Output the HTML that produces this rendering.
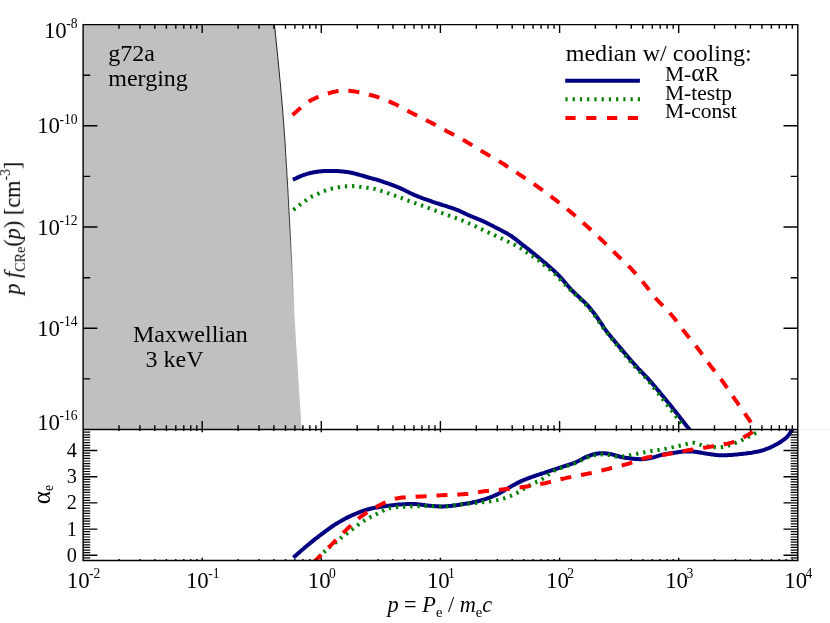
<!DOCTYPE html>
<html><head><meta charset="utf-8"><title>plot</title>
<style>html,body{margin:0;padding:0;background:#fff;}svg{display:block;}text{font-family:"Liberation Serif",serif;fill:#000;}</style></head><body>
<svg width="830" height="623" viewBox="0 0 830 623">
<rect width="830" height="623" fill="#fff"/>
<defs><clipPath id="cu"><rect x="83.1" y="24.6" width="714.7" height="404.9"/></clipPath>
<clipPath id="cl"><rect x="83.1" y="429.5" width="714.7" height="131.0"/></clipPath></defs>
<polygon points="83.1,24.6 274.4,24.3 274.6,26.8 275.0,29.8 275.3,33.4 275.8,37.5 276.2,41.9 276.7,46.5 277.2,51.4 277.7,56.3 278.2,61.2 278.6,66.0 279.1,70.6 279.5,75.0 279.9,79.2 280.3,83.3 280.7,87.4 281.0,91.5 281.4,95.6 281.8,99.7 282.1,103.8 282.5,108.0 282.8,112.2 283.1,116.4 283.5,120.7 283.8,125.0 284.1,129.4 284.4,133.9 284.8,138.5 285.1,143.1 285.4,147.8 285.6,152.5 285.9,157.2 286.2,161.9 286.5,166.5 286.8,171.1 287.0,175.6 287.3,180.0 287.5,184.3 287.8,188.4 288.0,192.3 288.2,196.2 288.4,200.0 288.6,203.9 288.8,207.8 289.0,211.9 289.3,216.0 289.5,220.4 289.7,225.1 290.0,230.0 290.3,235.3 290.6,240.9 290.9,246.8 291.2,252.9 291.5,259.1 291.8,265.5 292.2,271.9 292.5,278.2 292.8,284.6 293.2,290.7 293.5,296.7 293.8,302.5 294.1,308.1 294.4,313.5 294.7,318.8 295.0,324.0 295.3,329.2 295.6,334.3 295.9,339.3 296.2,344.4 296.5,349.5 296.9,354.6 297.2,359.8 297.5,365.0 297.8,370.5 298.2,376.4 298.6,382.5 299.0,388.7 299.4,394.9 299.8,401.1 300.2,407.0 300.5,412.6 300.9,417.7 301.1,422.3 301.4,426.2 301.6,429.3 83.1,429.5" fill="#c0c0c0"/>
<linearGradient id="mg" gradientUnits="userSpaceOnUse" x1="0" y1="24" x2="0" y2="312"><stop offset="0" stop-color="#000" stop-opacity="1"/><stop offset="0.7" stop-color="#000" stop-opacity="0.85"/><stop offset="1" stop-color="#000" stop-opacity="0"/></linearGradient>
<path d="M274.4 24.3 L274.6 26.8 L275.0 29.8 L275.3 33.4 L275.8 37.5 L276.2 41.9 L276.7 46.5 L277.2 51.4 L277.7 56.3 L278.2 61.2 L278.6 66.0 L279.1 70.6 L279.5 75.0 L279.9 79.2 L280.3 83.3 L280.7 87.4 L281.0 91.5 L281.4 95.6 L281.8 99.7 L282.1 103.8 L282.5 108.0 L282.8 112.2 L283.1 116.4 L283.5 120.7 L283.8 125.0 L284.1 129.4 L284.4 133.9 L284.8 138.5 L285.1 143.1 L285.4 147.8 L285.6 152.5 L285.9 157.2 L286.2 161.9 L286.5 166.5 L286.8 171.1 L287.0 175.6 L287.3 180.0 L287.5 184.3 L287.8 188.4 L288.0 192.3 L288.2 196.2 L288.4 200.0 L288.6 203.9 L288.8 207.8 L289.0 211.9 L289.3 216.0 L289.5 220.4 L289.7 225.1 L290.0 230.0 L290.3 235.5 L290.6 241.5 L290.9 248.0 L291.3 254.8 L291.7 261.8 L292.0 268.8 L292.4 275.6 L292.7 282.2 L293.0 288.3 L293.3 293.8 L293.6 298.6 L293.8 302.5 L294.0 305.5 L294.1 307.8 L294.2 309.5 L294.3 310.7 L294.3 311.4 L294.3 311.8 L294.4 311.9 L294.4 311.9 L294.4 311.8 L294.4 311.7 L294.4 311.7 L294.4 312.0" fill="none" stroke="url(#mg)" stroke-width="0.9"/>
<line x1="83.5" y1="16" x2="83.5" y2="23" stroke="#f3f3f3" stroke-width="1"/>
<line x1="798.8" y1="429.5" x2="830" y2="429.5" stroke="#f2f2f2" stroke-width="1"/>
<g clip-path="url(#cu)" fill="none" stroke-width="4">
<path d="M292.8 179.7 L293.3 179.5 L293.9 179.2 L294.7 178.8 L295.5 178.5 L296.4 178.1 L297.4 177.6 L298.3 177.2 L299.3 176.7 L300.3 176.3 L301.3 175.9 L302.2 175.5 L303.1 175.2 L303.9 174.9 L304.8 174.6 L305.6 174.4 L306.4 174.1 L307.2 173.9 L308.0 173.6 L308.8 173.4 L309.6 173.2 L310.4 173.0 L311.2 172.8 L311.9 172.7 L312.7 172.5 L313.4 172.3 L314.2 172.2 L314.9 172.1 L315.5 172.0 L316.2 171.9 L316.9 171.8 L317.6 171.7 L318.2 171.6 L318.9 171.5 L319.6 171.4 L320.4 171.4 L321.1 171.3 L321.9 171.2 L322.6 171.2 L323.4 171.1 L324.2 171.1 L325.1 171.0 L325.9 171.0 L326.7 171.0 L327.5 170.9 L328.4 170.9 L329.2 170.9 L330.0 170.9 L330.8 170.9 L331.6 170.9 L332.4 170.9 L333.2 170.9 L334.0 170.9 L334.8 171.0 L335.6 171.0 L336.4 171.0 L337.2 171.1 L338.0 171.1 L338.8 171.2 L339.6 171.2 L340.4 171.3 L341.2 171.4 L342.0 171.4 L342.8 171.5 L343.6 171.6 L344.4 171.7 L345.2 171.8 L346.1 171.9 L346.9 172.0 L347.7 172.1 L348.5 172.2 L349.3 172.4 L350.1 172.5 L350.9 172.7 L351.7 172.8 L352.5 173.0 L353.3 173.2 L354.1 173.4 L354.9 173.6 L355.7 173.8 L356.5 174.0 L357.3 174.2 L358.1 174.5 L358.9 174.7 L359.7 174.9 L360.5 175.1 L361.3 175.3 L362.1 175.6 L362.9 175.8 L363.6 176.0 L364.4 176.3 L365.2 176.5 L366.0 176.7 L366.8 177.0 L367.6 177.2 L368.5 177.5 L369.3 177.7 L370.1 177.9 L370.9 178.1 L371.7 178.4 L372.5 178.6 L373.3 178.8 L374.1 179.0 L375.0 179.2 L375.8 179.4 L376.8 179.7 L377.8 180.0 L378.8 180.3 L380.0 180.7 L381.2 181.1 L382.6 181.6 L384.0 182.1 L385.5 182.6 L387.0 183.1 L388.6 183.7 L390.2 184.2 L391.8 184.8 L393.4 185.4 L395.0 186.1 L396.6 186.7 L398.1 187.3 L399.6 187.9 L401.1 188.6 L402.6 189.3 L404.1 190.0 L405.6 190.8 L407.1 191.5 L408.6 192.2 L410.1 193.0 L411.6 193.7 L413.1 194.4 L414.6 195.1 L416.1 195.7 L417.6 196.3 L419.1 196.9 L420.6 197.5 L422.0 198.0 L423.5 198.6 L425.0 199.1 L426.5 199.6 L428.0 200.2 L429.5 200.7 L431.0 201.2 L432.6 201.8 L434.2 202.3 L435.8 202.9 L437.5 203.4 L439.3 204.0 L441.0 204.5 L442.8 205.1 L444.6 205.6 L446.4 206.2 L448.2 206.8 L449.9 207.3 L451.6 207.9 L453.2 208.4 L454.7 209.0 L456.2 209.6 L457.6 210.1 L459.0 210.7 L460.3 211.3 L461.6 211.9 L462.9 212.5 L464.1 213.1 L465.3 213.7 L466.5 214.2 L467.7 214.8 L468.9 215.3 L470.0 215.8 L471.1 216.3 L472.2 216.7 L473.2 217.1 L474.2 217.5 L475.2 217.9 L476.2 218.3 L477.2 218.7 L478.1 219.1 L479.1 219.4 L480.0 219.8 L481.0 220.3 L482.0 220.7 L483.0 221.2 L484.0 221.6 L484.9 222.1 L485.9 222.5 L486.9 223.0 L487.8 223.5 L488.8 224.0 L489.8 224.5 L490.8 225.0 L491.9 225.5 L493.0 226.1 L494.1 226.7 L495.3 227.3 L496.6 228.0 L497.9 228.6 L499.2 229.3 L500.6 230.0 L502.0 230.7 L503.3 231.4 L504.7 232.2 L506.1 232.9 L507.4 233.6 L508.6 234.4 L509.8 235.1 L510.9 235.8 L512.0 236.5 L513.0 237.3 L514.0 238.0 L514.9 238.7 L515.9 239.5 L516.8 240.2 L517.8 241.0 L518.7 241.7 L519.7 242.5 L520.7 243.4 L521.8 244.2 L522.9 245.1 L524.1 245.9 L525.2 246.8 L526.4 247.8 L527.6 248.7 L528.8 249.6 L530.1 250.6 L531.3 251.6 L532.5 252.6 L533.8 253.6 L535.0 254.6 L536.3 255.6 L537.6 256.7 L538.9 257.7 L540.3 258.9 L541.6 260.0 L543.0 261.2 L544.4 262.4 L545.8 263.5 L547.1 264.7 L548.4 265.8 L549.6 266.9 L550.8 267.9 L551.9 268.9 L552.9 269.8 L553.9 270.7 L554.7 271.5 L555.5 272.3 L556.3 273.1 L557.1 273.8 L557.8 274.5 L558.5 275.3 L559.3 276.0 L560.0 276.8 L560.8 277.6 L561.6 278.5 L562.4 279.4 L563.2 280.3 L564.0 281.2 L564.7 282.1 L565.5 283.0 L566.3 284.0 L567.1 285.0 L568.0 286.0 L568.9 287.0 L569.8 288.0 L570.8 289.2 L571.9 290.3 L573.1 291.5 L574.4 292.8 L575.8 294.1 L577.2 295.4 L578.7 296.8 L580.2 298.2 L581.7 299.6 L583.2 301.0 L584.7 302.4 L586.1 303.8 L587.4 305.2 L588.7 306.6 L589.9 308.0 L591.1 309.4 L592.2 310.9 L593.3 312.3 L594.4 313.8 L595.5 315.2 L596.5 316.7 L597.5 318.0 L598.4 319.3 L599.2 320.6 L600.0 321.7 L600.8 322.8 L601.4 323.7 L602.0 324.5 L602.4 325.1 L602.7 325.7 L603.0 326.2 L603.2 326.6 L603.5 327.1 L603.8 327.6 L604.2 328.2 L604.7 328.8 L605.3 329.6 L606.0 330.6 L606.9 331.7 L607.9 332.9 L608.9 334.3 L610.1 335.7 L611.3 337.2 L612.6 338.7 L613.9 340.3 L615.2 341.9 L616.6 343.5 L617.9 345.0 L619.2 346.6 L620.5 348.1 L621.8 349.6 L623.0 351.1 L624.3 352.6 L625.7 354.2 L627.0 355.7 L628.3 357.2 L629.6 358.8 L630.9 360.3 L632.3 361.8 L633.6 363.2 L634.8 364.7 L636.1 366.1 L637.3 367.5 L638.5 368.8 L639.7 370.0 L640.9 371.3 L642.1 372.5 L643.2 373.7 L644.4 374.9 L645.6 376.1 L646.8 377.4 L648.0 378.7 L649.3 380.1 L650.6 381.6 L651.9 383.1 L653.3 384.7 L654.7 386.3 L656.1 388.0 L657.5 389.7 L659.0 391.4 L660.4 393.2 L661.9 395.0 L663.4 396.8 L665.0 398.7 L666.5 400.6 L668.1 402.5 L669.8 404.6 L671.6 406.8 L673.4 409.2 L675.4 411.6 L677.3 414.1 L679.3 416.6 L681.2 419.0 L683.0 421.3 L684.7 423.4 L686.2 425.4 L687.5 427.0 L688.6 428.4 L689.4 429.5 L690.1 430.3 L690.5 430.8 L690.8 431.2 L691.0 431.4 L691.1 431.5 L691.1 431.5 L691.0 431.5 L691.0 431.4 L690.9 431.3 L690.9 431.3 L691.0 431.4" stroke="#000080"/>
<path d="M293.4 209.8 L293.7 209.6 L294.0 209.3 L294.4 209.0 L294.9 208.7 L295.4 208.3 L295.9 207.9 L296.5 207.5 L297.0 207.0 L297.6 206.6 L298.2 206.2 L298.7 205.8 L299.2 205.4 L299.7 205.0 L300.2 204.7 L300.7 204.3 L301.2 203.9 L301.7 203.6 L302.2 203.2 L302.7 202.8 L303.2 202.4 L303.7 202.1 L304.2 201.7 L304.7 201.4 L305.2 201.0 L305.7 200.6 L306.2 200.3 L306.7 199.9 L307.2 199.6 L307.7 199.2 L308.2 198.9 L308.7 198.5 L309.2 198.2 L309.7 197.8 L310.3 197.5 L310.8 197.2 L311.3 196.9 L311.8 196.6 L312.4 196.3 L312.9 196.1 L313.4 195.8 L314.0 195.5 L314.5 195.3 L315.1 195.0 L315.6 194.8 L316.2 194.5 L316.7 194.3 L317.3 194.0 L317.8 193.8 L318.4 193.5 L318.9 193.3 L319.5 193.0 L320.0 192.8 L320.6 192.5 L321.1 192.3 L321.7 192.0 L322.2 191.8 L322.8 191.6 L323.4 191.3 L323.9 191.1 L324.5 190.9 L325.1 190.7 L325.6 190.5 L326.2 190.3 L326.8 190.1 L327.4 189.9 L327.9 189.7 L328.5 189.5 L329.1 189.3 L329.7 189.2 L330.2 189.0 L330.8 188.9 L331.4 188.7 L332.0 188.6 L332.6 188.4 L333.1 188.3 L333.7 188.2 L334.3 188.0 L334.9 187.9 L335.4 187.8 L336.0 187.7 L336.6 187.6 L337.2 187.5 L337.8 187.4 L338.4 187.3 L339.0 187.2 L339.6 187.1 L340.2 187.0 L340.9 186.9 L341.5 186.8 L342.1 186.7 L342.7 186.6 L343.3 186.6 L344.0 186.5 L344.6 186.4 L345.2 186.4 L345.8 186.3 L346.4 186.3 L347.0 186.2 L347.6 186.2 L348.2 186.1 L348.7 186.1 L349.3 186.1 L349.9 186.1 L350.5 186.1 L351.0 186.1 L351.6 186.1 L352.2 186.1 L352.8 186.1 L353.4 186.1 L354.0 186.2 L354.6 186.2 L355.2 186.3 L355.8 186.4 L356.4 186.4 L357.1 186.5 L357.7 186.6 L358.3 186.7 L358.9 186.7 L359.5 186.8 L360.1 186.9 L360.7 187.0 L361.3 187.0 L361.9 187.1 L362.5 187.2 L363.1 187.3 L363.7 187.3 L364.3 187.4 L364.9 187.5 L365.5 187.6 L366.1 187.6 L366.7 187.7 L367.3 187.8 L367.9 187.9 L368.5 188.0 L369.1 188.1 L369.7 188.2 L370.3 188.2 L370.9 188.3 L371.5 188.4 L372.0 188.5 L372.6 188.6 L373.2 188.8 L373.8 188.9 L374.4 189.0 L375.0 189.1 L375.5 189.2 L376.0 189.4 L376.5 189.5 L377.0 189.6 L377.5 189.7 L378.0 189.9 L378.6 190.0 L379.2 190.2 L379.8 190.4 L380.6 190.6 L381.4 190.9 L382.3 191.2 L383.3 191.5 L384.4 191.9 L385.5 192.3 L386.6 192.7 L387.8 193.1 L389.1 193.5 L390.3 194.0 L391.5 194.4 L392.7 194.8 L393.9 195.3 L395.1 195.7 L396.2 196.1 L397.4 196.5 L398.5 197.0 L399.6 197.4 L400.8 197.8 L401.9 198.2 L403.0 198.7 L404.2 199.1 L405.3 199.5 L406.4 200.0 L407.6 200.4 L408.7 200.8 L409.8 201.2 L411.0 201.6 L412.1 202.0 L413.2 202.4 L414.3 202.8 L415.4 203.2 L416.6 203.7 L417.7 204.1 L418.8 204.5 L419.9 204.9 L421.1 205.3 L422.2 205.7 L423.3 206.1 L424.5 206.5 L425.6 207.0 L426.8 207.4 L427.9 207.8 L429.1 208.2 L430.2 208.7 L431.4 209.1 L432.6 209.5 L433.7 210.0 L434.9 210.4 L436.0 210.8 L437.1 211.2 L438.3 211.6 L439.4 212.1 L440.5 212.5 L441.7 212.9 L442.8 213.3 L443.9 213.7 L445.1 214.1 L446.2 214.5 L447.3 215.0 L448.5 215.4 L449.6 215.8 L450.7 216.2 L451.9 216.6 L453.0 217.1 L454.2 217.5 L455.4 217.9 L456.5 218.4 L457.7 218.8 L458.8 219.2 L460.0 219.7 L461.1 220.1 L462.3 220.5 L463.4 221.0 L464.5 221.5 L465.7 222.0 L466.9 222.5 L468.1 223.0 L469.3 223.5 L470.5 224.0 L471.7 224.5 L472.8 225.0 L473.9 225.5 L474.9 226.0 L475.8 226.4 L476.7 226.8 L477.5 227.2 L478.1 227.5 L478.7 227.7 L479.2 228.0 L479.6 228.2 L480.0 228.4 L480.4 228.7 L480.9 228.9 L481.3 229.1 L481.9 229.4 L482.5 229.7 L483.3 230.1 L484.2 230.5 L485.1 230.9 L486.1 231.4 L487.2 231.9 L488.3 232.4 L489.5 232.9 L490.7 233.4 L491.9 234.0 L493.1 234.5 L494.2 235.1 L495.4 235.6 L496.5 236.1 L497.6 236.6 L498.8 237.2 L499.9 237.7 L501.1 238.3 L502.3 238.8 L503.4 239.4 L504.5 239.9 L505.6 240.4 L506.7 240.9 L507.7 241.4 L508.6 241.9 L509.5 242.3 L510.3 242.7 L511.0 243.0 L511.6 243.3 L512.2 243.6 L512.7 243.9 L513.2 244.2 L513.7 244.4 L514.2 244.7 L514.6 244.9 L515.1 245.2 L515.6 245.4 L516.1 245.7 L516.6 246.0 L517.2 246.3 L517.7 246.6 L518.2 246.9 L518.8 247.2 L519.3 247.4 L519.8 247.7 L520.3 248.0 L520.9 248.3 L521.4 248.7 L521.9 249.0 L522.4 249.3 L522.9 249.6 L523.4 250.0 L523.9 250.3 L524.4 250.7 L524.9 251.1 L525.4 251.4 L525.9 251.8 L526.4 252.2 L526.9 252.5 L527.4 252.9 L527.9 253.2 L528.4 253.6 L528.9 253.9 L529.4 254.3 L529.9 254.6 L530.4 255.0 L531.0 255.3 L531.5 255.7 L532.0 256.0 L532.5 256.4 L533.0 256.7 L533.5 257.0 L534.0 257.4 L534.5 257.7 L535.0 258.0 L535.5 258.4 L536.0 258.7 L536.4 259.0 L536.9 259.3 L537.4 259.6 L537.9 259.9 L538.3 260.2 L538.8 260.6 L539.3 260.9 L539.7 261.2 L540.2 261.6 L540.7 262.0 L541.1 262.4 L541.6 262.7 L542.0 263.1 L542.5 263.5 L542.9 264.0 L543.4 264.4 L543.8 264.8 L544.3 265.2 L544.8 265.6 L545.2 266.0 L545.7 266.4 L546.2 266.8 L546.7 267.2 L547.2 267.6 L547.7 267.9 L548.2 268.3 L548.7 268.7 L549.2 269.1 L549.7 269.4 L550.2 269.8 L550.7 270.2 L551.2 270.6 L551.7 271.0 L552.1 271.4 L552.5 271.7 L552.9 272.0 L553.2 272.3 L553.5 272.6 L553.9 273.0 L554.2 273.3 L554.6 273.7 L555.1 274.2 L555.6 274.7 L556.3 275.4 L557.0 276.1 L557.8 277.0 L558.8 277.9 L559.8 279.0 L560.9 280.1 L562.0 281.3 L563.2 282.5 L564.5 283.8 L565.7 285.1 L567.0 286.4 L568.3 287.7 L569.6 289.0 L570.9 290.3 L572.2 291.6 L573.6 292.9 L575.0 294.2 L576.5 295.6 L577.9 296.9 L579.4 298.3 L580.9 299.7 L582.3 301.1 L583.8 302.5 L585.1 303.9 L586.5 305.2 L587.7 306.6 L588.9 308.0 L590.1 309.4 L591.2 310.9 L592.3 312.3 L593.4 313.8 L594.5 315.2 L595.5 316.7 L596.4 318.0 L597.3 319.3 L598.2 320.6 L599.0 321.7 L599.8 322.8 L600.5 323.7 L601.0 324.5 L601.4 325.1 L601.8 325.7 L602.1 326.2 L602.4 326.6 L602.7 327.1 L603.1 327.6 L603.5 328.2 L604.0 328.8 L604.6 329.6 L605.3 330.6 L606.2 331.7 L607.1 332.9 L608.2 334.3 L609.3 335.7 L610.5 337.2 L611.7 338.7 L613.0 340.3 L614.2 341.9 L615.5 343.5 L616.8 345.0 L618.1 346.6 L619.3 348.1 L620.5 349.6 L621.8 351.1 L623.0 352.6 L624.3 354.2 L625.5 355.7 L626.8 357.3 L628.1 358.8 L629.3 360.3 L630.6 361.8 L631.8 363.3 L633.1 364.7 L634.3 366.1 L635.5 367.4 L636.7 368.7 L637.8 369.8 L638.9 371.0 L640.0 372.1 L641.2 373.2 L642.3 374.3 L643.4 375.5 L644.6 376.7 L645.8 378.0 L647.0 379.3 L648.3 380.8 L649.6 382.4 L651.0 384.0 L652.3 385.7 L653.7 387.5 L655.2 389.3 L656.6 391.1 L658.1 393.0 L659.5 394.9 L661.0 396.8 L662.5 398.7 L663.9 400.6 L665.4 402.5 L666.9 404.5 L668.5 406.5 L670.2 408.7 L671.9 411.0 L673.6 413.2 L675.3 415.5 L676.9 417.6 L678.5 419.6 L679.9 421.5 L681.2 423.2 L682.2 424.6 L683.1 425.7" stroke="#008000" stroke-dasharray="2.3 4.9"/>
<path d="M292.5 114.9 L293.4 114.2 L294.4 113.3 L295.7 112.2 L297.1 110.9 L298.6 109.6 L300.2 108.2 L301.9 106.8 L303.6 105.4 L305.4 104.0 L307.2 102.7 L308.9 101.5 L310.6 100.5 L312.3 99.6 L314.1 98.7 L315.9 97.9 L317.7 97.1 L319.6 96.3 L321.5 95.6 L323.4 94.9 L325.3 94.3 L327.1 93.7 L328.9 93.2 L330.6 92.7 L332.3 92.3 L333.9 91.9 L335.3 91.6 L336.7 91.3 L338.0 91.1 L339.3 90.9 L340.6 90.7 L341.9 90.6 L343.2 90.6 L344.6 90.6 L346.0 90.6 L347.6 90.7 L349.2 90.8 L351.0 91.0 L352.8 91.2 L354.8 91.5 L356.9 91.9 L358.9 92.3 L361.1 92.7 L363.2 93.1 L365.3 93.6 L367.4 94.1 L369.4 94.7 L371.4 95.2 L373.3 95.7 L375.1 96.2 L376.9 96.8 L378.6 97.4 L380.3 98.0 L382.0 98.6 L383.6 99.2 L385.3 99.8 L386.9 100.5 L388.5 101.2 L390.1 101.9 L391.7 102.6 L393.3 103.3 L394.9 104.0 L396.5 104.8 L398.1 105.6 L399.6 106.4 L401.2 107.2 L402.7 108.0 L404.2 108.9 L405.8 109.7 L407.3 110.6 L408.8 111.4 L410.4 112.2 L411.9 113.0 L413.4 113.8 L415.0 114.6 L416.5 115.3 L418.1 116.1 L419.6 116.9 L421.2 117.6 L422.7 118.4 L424.3 119.2 L425.8 119.9 L427.3 120.7 L428.9 121.5 L430.4 122.3 L431.9 123.1 L433.5 123.9 L435.0 124.7 L436.5 125.6 L438.1 126.4 L439.6 127.2 L441.1 128.1 L442.6 128.9 L444.2 129.7 L445.7 130.5 L447.2 131.4 L448.7 132.2 L450.2 133.0 L451.7 133.8 L453.2 134.6 L454.7 135.4 L456.2 136.2 L457.7 137.0 L459.2 137.8 L460.7 138.7 L462.2 139.5 L463.7 140.3 L465.2 141.1 L466.7 142.0 L468.2 142.9 L469.7 143.8 L471.2 144.7 L472.7 145.6 L474.2 146.5 L475.7 147.4 L477.2 148.3 L478.7 149.3 L480.2 150.2 L481.7 151.1 L483.2 152.0 L484.7 152.9 L486.2 153.8 L487.7 154.7 L489.2 155.5 L490.7 156.4 L492.1 157.3 L493.6 158.1 L495.1 159.0 L496.6 159.8 L498.1 160.7 L499.6 161.6 L501.0 162.5 L502.5 163.4 L504.0 164.3 L505.4 165.2 L506.9 166.2 L508.4 167.1 L509.8 168.1 L511.3 169.0 L512.7 170.0 L514.2 171.0 L515.7 171.9 L517.1 172.9 L518.6 173.8 L520.0 174.8 L521.4 175.8 L522.9 176.7 L524.3 177.7 L525.8 178.6 L527.2 179.6 L528.6 180.5 L530.1 181.5 L531.5 182.5 L532.9 183.4 L534.4 184.4 L535.8 185.4 L537.2 186.4 L538.6 187.4 L540.0 188.4 L541.5 189.4 L542.9 190.5 L544.3 191.5 L545.7 192.5 L547.1 193.6 L548.5 194.6 L549.9 195.7 L551.3 196.7 L552.7 197.8 L554.1 198.8 L555.5 199.8 L556.8 200.9 L558.2 202.0 L559.5 203.0 L560.9 204.1 L562.2 205.1 L563.6 206.2 L564.9 207.3 L566.2 208.3 L567.5 209.4 L568.9 210.5 L570.2 211.6 L571.5 212.7 L572.8 213.8 L574.2 214.9 L575.5 216.1 L576.8 217.2 L578.1 218.4 L579.4 219.5 L580.7 220.7 L582.0 221.8 L583.3 223.0 L584.6 224.1 L585.9 225.3 L587.2 226.5 L588.5 227.6 L589.8 228.8 L591.0 230.0 L592.3 231.2 L593.6 232.4 L594.9 233.5 L596.2 234.7 L597.4 235.9 L598.7 237.1 L599.9 238.3 L601.2 239.5 L602.5 240.7 L603.7 241.9 L605.0 243.1 L606.2 244.4 L607.4 245.6 L608.7 246.8 L609.9 248.0 L611.2 249.2 L612.4 250.4 L613.6 251.6 L614.8 252.8 L616.0 254.0 L617.2 255.1 L618.4 256.3 L619.5 257.4 L620.7 258.4 L621.8 259.5 L623.0 260.6 L624.1 261.7 L625.3 262.8 L626.4 263.9 L627.6 265.0 L628.7 266.2 L629.9 267.4 L631.1 268.7 L632.3 270.0 L633.5 271.3 L634.8 272.7 L636.0 274.1 L637.2 275.5 L638.5 276.9 L639.7 278.3 L640.9 279.7 L642.0 281.1 L643.1 282.4 L644.2 283.7 L645.2 284.9 L646.1 286.1 L647.0 287.2 L647.8 288.3 L648.6 289.4 L649.4 290.5 L650.2 291.5 L651.0 292.6 L651.9 293.8 L652.9 295.0 L653.9 296.2 L655.0 297.5 L656.2 298.9 L657.6 300.3 L659.0 301.9 L660.5 303.4 L662.1 305.0 L663.6 306.6 L665.2 308.2 L666.7 309.9 L668.3 311.4 L669.7 313.0 L671.1 314.5 L672.4 316.0 L673.6 317.4 L674.7 318.8 L675.8 320.2 L676.8 321.5 L677.8 322.8 L678.7 324.1 L679.7 325.4 L680.6 326.7 L681.5 328.0 L682.5 329.3 L683.5 330.6 L684.5 331.9 L685.6 333.2 L686.6 334.6 L687.7 335.9 L688.8 337.2 L689.9 338.6 L691.0 339.9 L692.1 341.2 L693.2 342.6 L694.3 343.9 L695.4 345.3 L696.4 346.6 L697.5 348.0 L698.5 349.4 L699.6 350.8 L700.6 352.2 L701.6 353.6 L702.7 355.0 L703.7 356.4 L704.7 357.8 L705.7 359.2 L706.7 360.6 L707.7 362.0 L708.8 363.4 L709.8 364.8 L710.8 366.2 L711.9 367.5 L712.9 368.9 L714.0 370.2 L715.1 371.6 L716.1 372.9 L717.2 374.3 L718.2 375.6 L719.3 377.0 L720.3 378.3 L721.4 379.7 L722.4 381.1 L723.4 382.5 L724.4 383.9 L725.4 385.3 L726.4 386.8 L727.4 388.2 L728.4 389.6 L729.4 391.1 L730.3 392.5 L731.3 394.0 L732.3 395.4 L733.3 396.9 L734.3 398.3 L735.3 399.8 L736.3 401.2 L737.4 402.7 L738.4 404.3 L739.5 405.8 L740.5 407.3 L741.6 408.8 L742.6 410.2 L743.6 411.7 L744.6 413.1 L745.5 414.5 L746.4 415.8 L747.3 417.1 L748.2 418.4 L749.1 419.7 L749.9 421.0 L750.8 422.3 L751.6 423.6 L752.4 424.7 L753.1 425.9 L753.8 426.9 L754.5 427.8 L755.0 428.7 L755.5 429.4 L755.9 430.0 L756.2 430.5 L756.4 430.8 L756.6 431.1 L756.7 431.2 L756.8 431.3 L756.9 431.4 L756.9 431.5 L756.9 431.5 L756.9 431.5 L757.0 431.5 L757.0 431.6" stroke="#ff0000" stroke-dasharray="11 9.9"/>
</g>
<g clip-path="url(#cl)" fill="none" stroke-width="4">
<path d="M293.3 557.5 L294.4 556.6 L295.8 555.4 L297.4 554.0 L299.2 552.4 L301.1 550.7 L303.2 549.0 L305.4 547.1 L307.6 545.2 L309.8 543.4 L312.0 541.6 L314.1 539.9 L316.1 538.3 L318.1 536.8 L320.0 535.3 L322.0 533.8 L324.0 532.3 L326.0 530.8 L328.1 529.3 L330.1 527.9 L332.1 526.5 L334.1 525.1 L336.2 523.8 L338.2 522.6 L340.2 521.4 L342.2 520.3 L344.2 519.2 L346.2 518.1 L348.2 517.1 L350.2 516.1 L352.2 515.2 L354.3 514.3 L356.3 513.5 L358.3 512.7 L360.3 511.9 L362.3 511.2 L364.3 510.5 L366.3 509.9 L368.3 509.3 L370.3 508.8 L372.3 508.3 L374.3 507.9 L376.4 507.5 L378.4 507.2 L380.4 506.8 L382.4 506.5 L384.4 506.2 L386.4 506.0 L388.4 505.7 L390.4 505.4 L392.5 505.2 L394.6 505.0 L396.7 504.8 L398.8 504.6 L400.9 504.4 L403.0 504.3 L405.0 504.2 L407.0 504.1 L408.9 504.1 L410.7 504.0 L412.5 504.0 L414.2 504.0 L415.8 504.1 L417.3 504.2 L418.8 504.4 L420.2 504.5 L421.6 504.7 L422.9 504.9 L424.2 505.1 L425.5 505.3 L426.8 505.4 L428.1 505.6 L429.4 505.7 L430.7 505.8 L431.9 505.9 L433.1 506.0 L434.3 506.1 L435.5 506.2 L436.7 506.3 L437.8 506.3 L439.0 506.4 L440.2 506.4 L441.4 506.4 L442.6 506.4 L443.9 506.4 L445.2 506.3 L446.5 506.3 L447.9 506.1 L449.3 506.0 L450.6 505.9 L452.0 505.7 L453.5 505.5 L454.9 505.4 L456.3 505.2 L457.8 504.9 L459.2 504.7 L460.7 504.5 L462.2 504.3 L463.7 504.0 L465.3 503.8 L466.8 503.5 L468.4 503.2 L470.0 503.0 L471.6 502.7 L473.2 502.3 L474.7 502.0 L476.3 501.7 L477.8 501.3 L479.3 500.9 L480.8 500.5 L482.3 500.0 L483.7 499.6 L485.2 499.1 L486.7 498.6 L488.1 498.1 L489.5 497.6 L490.9 497.0 L492.3 496.5 L493.6 496.0 L494.9 495.4 L496.1 494.9 L497.3 494.4 L498.4 493.8 L499.5 493.2 L500.5 492.7 L501.5 492.1 L502.5 491.5 L503.4 491.0 L504.3 490.4 L505.3 489.8 L506.2 489.2 L507.2 488.7 L508.2 488.1 L509.2 487.5 L510.2 487.0 L511.2 486.4 L512.2 485.8 L513.2 485.3 L514.2 484.7 L515.2 484.2 L516.2 483.6 L517.2 483.1 L518.2 482.6 L519.2 482.1 L520.2 481.6 L521.2 481.1 L522.2 480.7 L523.2 480.3 L524.1 479.9 L525.1 479.5 L526.1 479.1 L527.1 478.7 L528.1 478.3 L529.1 478.0 L530.1 477.6 L531.2 477.2 L532.3 476.8 L533.4 476.4 L534.6 476.0 L535.7 475.6 L536.9 475.2 L538.1 474.8 L539.3 474.4 L540.6 474.0 L541.8 473.6 L543.0 473.2 L544.3 472.8 L545.5 472.4 L546.7 472.0 L547.9 471.6 L549.1 471.2 L550.3 470.8 L551.5 470.4 L552.7 470.0 L553.9 469.6 L555.2 469.2 L556.4 468.8 L557.6 468.4 L558.8 468.0 L560.0 467.6 L561.2 467.2 L562.4 466.8 L563.6 466.4 L564.9 466.0 L566.1 465.6 L567.4 465.2 L568.6 464.8 L569.8 464.4 L571.1 464.0 L572.3 463.6 L573.4 463.2 L574.6 462.7 L575.7 462.3 L576.8 461.8 L577.9 461.3 L578.9 460.8 L579.9 460.3 L580.9 459.7 L581.9 459.2 L582.9 458.6 L583.9 458.1 L584.8 457.6 L585.8 457.1 L586.7 456.7 L587.7 456.3 L588.6 455.9 L589.6 455.6 L590.5 455.3 L591.4 455.0 L592.3 454.7 L593.2 454.4 L594.1 454.2 L595.0 454.0 L595.9 453.8 L596.8 453.7 L597.7 453.5 L598.6 453.4 L599.5 453.3 L600.4 453.3 L601.2 453.2 L602.1 453.2 L602.9 453.2 L603.8 453.2 L604.6 453.3 L605.5 453.4 L606.4 453.5 L607.4 453.6 L608.4 453.7 L609.4 453.9 L610.5 454.1 L611.6 454.3 L612.7 454.6 L613.9 454.9 L615.1 455.3 L616.3 455.6 L617.5 456.0 L618.8 456.3 L620.0 456.7 L621.3 457.0 L622.6 457.3 L623.9 457.5 L625.2 457.7 L626.6 457.9 L628.0 458.1 L629.5 458.3 L631.0 458.5 L632.5 458.7 L633.9 458.8 L635.4 459.0 L636.8 459.1 L638.1 459.1 L639.5 459.2 L640.7 459.2 L641.9 459.2 L643.0 459.1 L644.1 459.0 L645.2 458.9 L646.2 458.8 L647.2 458.6 L648.1 458.5 L649.1 458.3 L650.0 458.1 L650.9 457.9 L651.9 457.7 L652.8 457.5 L653.7 457.3 L654.5 457.1 L655.3 456.9 L656.0 456.6 L656.7 456.4 L657.5 456.1 L658.2 455.9 L659.0 455.6 L659.9 455.4 L660.8 455.1 L661.8 454.8 L663.0 454.6 L664.3 454.3 L665.8 454.1 L667.4 453.8 L669.0 453.5 L670.8 453.2 L672.5 453.0 L674.3 452.7 L676.1 452.5 L677.8 452.2 L679.4 452.0 L680.9 451.8 L682.3 451.7 L683.6 451.6 L684.7 451.5 L685.8 451.5 L686.8 451.4 L687.8 451.4 L688.8 451.4 L689.7 451.4 L690.6 451.5 L691.5 451.5 L692.4 451.6 L693.3 451.6 L694.3 451.7 L695.3 451.8 L696.3 451.9 L697.3 452.0 L698.2 452.2 L699.2 452.4 L700.2 452.5 L701.2 452.7 L702.2 452.9 L703.2 453.1 L704.2 453.3 L705.3 453.4 L706.4 453.6 L707.5 453.8 L708.6 453.9 L709.7 454.1 L710.8 454.3 L712.0 454.5 L713.1 454.6 L714.3 454.8 L715.6 455.0 L716.8 455.1 L718.1 455.2 L719.4 455.3 L720.8 455.3 L722.2 455.3 L723.7 455.3 L725.3 455.2 L726.9 455.2 L728.5 455.1 L730.1 455.0 L731.8 454.9 L733.5 454.7 L735.2 454.6 L736.8 454.4 L738.5 454.3 L740.1 454.1 L741.7 453.9 L743.4 453.7 L745.0 453.6 L746.7 453.4 L748.4 453.1 L750.1 452.9 L751.7 452.7 L753.3 452.4 L754.9 452.1 L756.5 451.9 L758.0 451.5 L759.4 451.2 L760.8 450.8 L762.1 450.5 L763.4 450.1 L764.7 449.6 L765.9 449.2 L767.1 448.7 L768.3 448.3 L769.4 447.8 L770.6 447.3 L771.7 446.8 L772.8 446.2 L773.9 445.7 L775.0 445.1 L776.1 444.5 L777.2 443.9 L778.3 443.3 L779.4 442.7 L780.4 442.0 L781.5 441.3 L782.4 440.7 L783.4 440.0 L784.3 439.3 L785.1 438.7 L785.9 438.0 L786.6 437.3 L787.3 436.6 L787.9 435.9 L788.5 435.2 L789.1 434.4 L789.6 433.7 L790.1 433.0 L790.5 432.3 L790.9 431.7 L791.3 431.0 L791.6 430.5 L791.9 430.0 L792.2 429.6 L792.4 429.2 L792.5 428.8 L792.7 428.5 L792.8 428.2 L792.8 428.0 L792.9 427.8 L792.9 427.6 L792.9 427.4 L792.9 427.3 L793.0 427.1 L793.0 427.0" stroke="#000080"/>
<path d="M313.5 562.5 L314.1 561.9 L314.9 561.1 L315.9 560.1 L317.0 559.0 L318.1 557.8 L319.3 556.6 L320.6 555.4 L321.9 554.1 L323.1 552.9 L324.4 551.7 L325.5 550.6 L326.6 549.6 L327.6 548.7 L328.7 547.8 L329.7 547.0 L330.7 546.2 L331.8 545.4 L332.8 544.6 L333.8 543.9 L334.7 543.2 L335.6 542.5 L336.5 541.8 L337.3 541.2 L338.0 540.6 L338.7 540.0 L339.2 539.5 L339.8 539.1 L340.2 538.6 L340.6 538.2 L341.0 537.8 L341.4 537.5 L341.8 537.1 L342.1 536.8 L342.5 536.4 L342.9 536.1 L343.4 535.7 L343.9 535.3 L344.4 535.0 L344.9 534.6 L345.4 534.3 L345.9 534.0 L346.4 533.6 L347.0 533.3 L347.5 533.0 L348.0 532.6 L348.5 532.3 L349.0 532.0 L349.5 531.6 L350.0 531.2 L350.5 530.9 L351.0 530.5 L351.4 530.1 L351.9 529.7 L352.4 529.3 L352.8 528.9 L353.3 528.5 L353.8 528.1 L354.3 527.7 L354.7 527.4 L355.2 527.0 L355.7 526.6 L356.1 526.3 L356.6 525.9 L357.1 525.6 L357.5 525.2 L358.0 524.9 L358.5 524.5 L358.9 524.2 L359.4 523.8 L359.9 523.5 L360.4 523.1 L360.9 522.8 L361.4 522.5 L361.9 522.1 L362.5 521.8 L363.0 521.4 L363.5 521.1 L364.1 520.7 L364.6 520.4 L365.1 520.1 L365.7 519.7 L366.2 519.4 L366.8 519.1 L367.3 518.8 L367.8 518.5 L368.4 518.2 L368.9 517.9 L369.4 517.6 L369.9 517.4 L370.4 517.1 L371.0 516.8 L371.5 516.6 L372.0 516.3 L372.5 516.0 L373.1 515.8 L373.6 515.5 L374.1 515.2 L374.7 515.0 L375.2 514.7 L375.8 514.5 L376.3 514.2 L376.9 514.0 L377.4 513.7 L378.0 513.4 L378.6 513.2 L379.1 512.9 L379.7 512.7 L380.2 512.4 L380.7 512.1 L381.3 511.8 L381.8 511.5 L382.3 511.2 L382.8 510.9 L383.4 510.6 L383.9 510.3 L384.4 510.0 L384.9 509.7 L385.5 509.5 L386.0 509.2 L386.6 509.0 L387.2 508.8 L387.8 508.6 L388.4 508.4 L389.0 508.3 L389.6 508.2 L390.2 508.0 L390.8 507.9 L391.4 507.8 L392.1 507.7 L392.7 507.6 L393.3 507.5 L393.9 507.4 L394.5 507.3 L395.1 507.3 L395.7 507.2 L396.3 507.1 L396.9 507.1 L397.5 507.1 L398.1 507.0 L398.7 507.0 L399.3 507.0 L399.9 507.0 L400.5 506.9 L401.1 506.9 L401.7 506.9 L402.2 506.8 L402.7 506.8 L403.2 506.8 L403.7 506.8 L404.2 506.7 L404.8 506.7 L405.4 506.7 L406.0 506.7 L406.7 506.7 L407.4 506.6 L408.3 506.6 L409.3 506.6 L410.4 506.5 L411.6 506.5 L412.9 506.5 L414.2 506.4 L415.6 506.4 L416.9 506.4 L418.2 506.3 L419.5 506.3 L420.7 506.3 L421.8 506.2 L422.8 506.2 L423.6 506.2 L424.3 506.1 L425.0 506.1 L425.5 506.1 L426.0 506.1 L426.4 506.0 L426.9 506.0 L427.4 506.0 L427.9 506.0 L428.5 506.0 L429.2 506.0 L430.0 506.0 L430.9 506.0 L431.9 506.1 L433.0 506.2 L434.1 506.2 L435.2 506.3 L436.4 506.4 L437.6 506.5 L438.9 506.6 L440.1 506.6 L441.4 506.6 L442.6 506.6 L443.9 506.6 L445.1 506.5 L446.4 506.4 L447.6 506.3 L448.8 506.1 L450.0 505.9 L451.3 505.7 L452.6 505.5 L454.0 505.3 L455.4 505.1 L456.8 504.9 L458.4 504.7 L460.0 504.5 L461.8 504.3 L463.6 504.1 L465.6 503.9 L467.7 503.7 L469.8 503.5 L472.0 503.4 L474.2 503.2 L476.3 502.9 L478.4 502.7 L480.4 502.5 L482.3 502.3 L484.1 502.1 L485.8 501.9 L487.4 501.7 L488.9 501.5 L490.4 501.3 L491.8 501.1 L493.2 500.8 L494.5 500.6 L495.8 500.4 L497.1 500.1 L498.4 499.8 L499.7 499.5 L501.0 499.2 L502.3 498.8 L503.5 498.5 L504.8 498.1 L506.0 497.7 L507.2 497.2 L508.4 496.8 L509.5 496.3 L510.7 495.9 L511.9 495.3 L513.0 494.8 L514.2 494.3 L515.4 493.7 L516.6 493.1 L517.8 492.4 L519.1 491.7 L520.3 491.0 L521.6 490.2 L522.8 489.5 L524.0 488.7 L525.2 488.0 L526.4 487.2 L527.6 486.5 L528.8 485.8 L529.9 485.2 L531.0 484.6 L532.0 484.1 L533.1 483.6 L534.1 483.1 L535.1 482.6 L536.0 482.2 L537.0 481.7 L538.0 481.3 L539.0 480.8 L539.9 480.3 L540.9 479.8 L541.9 479.2 L542.9 478.6 L544.0 477.9 L545.0 477.1 L546.1 476.4 L547.2 475.6 L548.2 474.8 L549.3 474.0 L550.3 473.3 L551.3 472.6 L552.3 471.9 L553.2 471.3 L554.0 470.8 L554.7 470.4 L555.4 470.0 L556.0 469.7 L556.5 469.5 L557.0 469.3 L557.5 469.1 L557.9 468.9 L558.4 468.7 L559.0 468.6 L559.6 468.3 L560.4 468.1 L561.2 467.8 L562.2 467.5 L563.2 467.1 L564.4 466.7 L565.6 466.4 L566.9 466.0 L568.2 465.6 L569.5 465.2 L570.8 464.7 L572.1 464.3 L573.3 463.9 L574.6 463.4 L575.7 463.0 L576.8 462.5 L577.9 462.1 L578.9 461.6 L579.9 461.1 L580.9 460.5 L581.9 460.0 L582.9 459.5 L583.9 459.0 L584.8 458.5 L585.8 458.1 L586.7 457.7 L587.7 457.3 L588.6 457.0 L589.6 456.6 L590.5 456.3 L591.4 456.0 L592.3 455.8 L593.2 455.5 L594.1 455.3 L595.0 455.1 L595.9 454.9 L596.8 454.7 L597.7 454.6 L598.6 454.5 L599.5 454.4 L600.4 454.4 L601.3 454.4 L602.3 454.4 L603.2 454.5 L604.1 454.5 L605.0 454.6 L605.9 454.7 L606.8 454.8 L607.7 454.9 L608.5 455.0 L609.4 455.1 L610.2 455.2 L611.0 455.4 L611.8 455.5 L612.5 455.7 L613.2 455.9 L614.0 456.1 L614.7 456.3 L615.5 456.5 L616.3 456.6 L617.1 456.7 L618.0 456.8 L619.0 456.8 L620.0 456.7 L621.1 456.6 L622.3 456.5 L623.5 456.3 L624.7 456.1 L625.9 455.9 L627.2 455.6 L628.5 455.4 L629.8 455.1 L631.0 454.9 L632.3 454.6 L633.5 454.4 L634.7 454.2 L635.9 453.9 L637.2 453.7 L638.4 453.4 L639.7 453.2 L640.9 452.9 L642.1 452.6 L643.4 452.4 L644.6 452.2 L645.7 451.9 L646.9 451.7 L648.0 451.5 L649.1 451.3 L650.1 451.2 L651.0 451.0 L651.9 450.9 L652.8 450.8 L653.7 450.7 L654.6 450.6 L655.5 450.5 L656.5 450.4 L657.6 450.2 L658.7 450.0 L660.0 449.8 L661.4 449.5 L662.9 449.2 L664.6 448.9 L666.3 448.6 L668.1 448.2 L669.9 447.8 L671.7 447.4 L673.5 447.1 L675.2 446.7 L676.9 446.3 L678.5 446.0 L679.9 445.7 L681.2 445.4 L682.5 445.1 L683.7 444.8 L684.9 444.4 L686.0 444.1 L687.1 443.8 L688.1 443.5 L689.1 443.3 L690.1 443.1 L691.1 442.9 L692.1 442.8 L693.1 442.8 L694.1 442.8 L695.0 443.0 L695.8 443.1 L696.7 443.4 L697.5 443.7 L698.3 444.0 L699.2 444.3 L700.0 444.6 L700.9 444.9 L701.9 445.2 L702.9 445.5 L704.0 445.7 L705.2 445.9 L706.5 446.1 L707.8 446.4 L709.2 446.6 L710.6 446.8 L712.0 447.0 L713.5 447.2 L715.0 447.3 L716.5 447.4 L717.9 447.4 L719.4 447.4 L720.8 447.3 L722.2 447.1 L723.6 446.9 L725.0 446.6 L726.4 446.2 L727.7 445.8 L729.1 445.3 L730.5 444.8 L731.9 444.3 L733.3 443.8 L734.8 443.2 L736.2 442.6 L737.7 442.0 L739.3 441.3 L740.9 440.6 L742.7 439.7 L744.5 438.8 L746.4 437.9 L748.2 437.0 L749.9 436.1 L751.6 435.2 L753.1 434.4 L754.4 433.7 L755.6 433.1 L756.5 432.6" stroke="#008000" stroke-dasharray="2.3 4.9"/>
<path d="M313.5 562.5 L314.2 561.8 L315.0 561.0 L316.0 560.0 L317.1 558.9 L318.3 557.7 L319.6 556.4 L321.0 555.1 L322.4 553.7 L323.9 552.2 L325.3 550.8 L326.8 549.3 L328.2 547.9 L329.7 546.4 L331.2 544.9 L332.8 543.3 L334.4 541.6 L336.0 539.9 L337.7 538.2 L339.4 536.5 L341.1 534.8 L342.7 533.2 L344.4 531.6 L346.0 530.1 L347.5 528.6 L349.0 527.2 L350.4 525.9 L351.8 524.6 L353.1 523.4 L354.4 522.1 L355.8 521.0 L357.1 519.8 L358.4 518.6 L359.8 517.5 L361.2 516.4 L362.7 515.3 L364.3 514.2 L366.0 513.1 L367.7 512.0 L369.5 510.8 L371.4 509.7 L373.4 508.6 L375.3 507.5 L377.2 506.5 L379.1 505.5 L381.0 504.5 L382.7 503.6 L384.4 502.8 L386.0 502.1 L387.4 501.5 L388.7 500.9 L389.9 500.4 L391.0 500.0 L392.1 499.6 L393.1 499.3 L394.1 499.0 L395.2 498.7 L396.4 498.5 L397.6 498.3 L399.0 498.0 L400.5 497.8 L402.2 497.6 L404.0 497.4 L405.9 497.2 L407.8 497.1 L409.9 497.0 L411.9 496.9 L414.1 496.8 L416.2 496.7 L418.4 496.6 L420.5 496.5 L422.6 496.4 L424.6 496.3 L426.6 496.2 L428.6 496.1 L430.7 495.9 L432.7 495.8 L434.8 495.7 L436.8 495.6 L438.8 495.5 L440.8 495.3 L442.8 495.2 L444.8 495.1 L446.8 495.0 L448.7 494.9 L450.6 494.8 L452.5 494.7 L454.5 494.6 L456.4 494.5 L458.3 494.4 L460.2 494.4 L462.0 494.3 L463.8 494.2 L465.6 494.1 L467.3 494.0 L468.9 493.8 L470.4 493.7 L471.8 493.5 L473.0 493.4 L474.1 493.2 L475.2 493.0 L476.1 492.8 L477.1 492.6 L478.1 492.4 L479.1 492.1 L480.1 491.9 L481.3 491.7 L482.6 491.5 L484.1 491.3 L485.8 491.1 L487.6 490.9 L489.5 490.7 L491.5 490.5 L493.6 490.3 L495.8 490.1 L498.0 489.9 L500.1 489.7 L502.3 489.5 L504.3 489.3 L506.3 489.1 L508.2 488.9 L510.0 488.7 L511.7 488.5 L513.4 488.3 L515.0 488.1 L516.6 487.9 L518.2 487.7 L519.7 487.5 L521.3 487.3 L522.8 487.1 L524.3 486.9 L525.9 486.6 L527.5 486.4 L529.1 486.1 L530.7 485.9 L532.2 485.6 L533.8 485.3 L535.4 485.1 L537.0 484.8 L538.5 484.5 L540.1 484.2 L541.7 483.8 L543.4 483.5 L545.0 483.2 L546.7 482.8 L548.4 482.4 L550.1 482.0 L551.9 481.6 L553.7 481.1 L555.4 480.7 L557.2 480.2 L559.1 479.8 L560.9 479.3 L562.7 478.8 L564.6 478.4 L566.5 477.9 L568.4 477.5 L570.3 477.1 L572.3 476.7 L574.4 476.3 L576.4 475.9 L578.5 475.5 L580.6 475.1 L582.7 474.7 L584.7 474.3 L586.8 473.9 L588.7 473.5 L590.7 473.1 L592.5 472.7 L594.3 472.3 L596.0 471.9 L597.7 471.5 L599.4 471.1 L601.0 470.7 L602.6 470.3 L604.2 469.9 L605.7 469.5 L607.3 469.1 L608.8 468.7 L610.3 468.3 L611.8 467.9 L613.3 467.5 L614.7 467.2 L616.2 466.8 L617.6 466.5 L619.0 466.2 L620.4 465.8 L621.7 465.5 L623.1 465.1 L624.5 464.8 L625.9 464.4 L627.3 464.0 L628.7 463.6 L630.1 463.2 L631.5 462.7 L632.9 462.2 L634.3 461.7 L635.7 461.1 L637.1 460.6 L638.5 460.1 L640.0 459.6 L641.4 459.1 L642.9 458.6 L644.5 458.1 L646.1 457.7 L647.8 457.3 L649.5 457.0 L651.2 456.6 L653.0 456.3 L654.8 456.1 L656.7 455.8 L658.5 455.5 L660.4 455.3 L662.3 455.0 L664.1 454.7 L666.0 454.4 L667.8 454.1 L669.6 453.8 L671.4 453.4 L673.2 453.1 L675.0 452.7 L676.8 452.4 L678.6 452.0 L680.5 451.7 L682.3 451.3 L684.1 451.0 L685.9 450.6 L687.7 450.3 L689.5 450.0 L691.3 449.7 L693.1 449.4 L694.9 449.1 L696.6 448.9 L698.4 448.6 L700.2 448.4 L702.0 448.1 L703.8 447.8 L705.6 447.6 L707.4 447.3 L709.3 446.9 L711.2 446.6 L713.1 446.2 L715.1 445.9 L717.1 445.5 L719.2 445.2 L721.3 444.8 L723.3 444.4 L725.4 444.0 L727.4 443.6 L729.5 443.1 L731.5 442.6 L733.4 442.0 L735.3 441.3 L737.2 440.5 L739.1 439.7 L741.1 438.7 L743.1 437.6 L745.0 436.5 L746.9 435.4 L748.7 434.4 L750.5 433.3 L752.0 432.3 L753.5 431.4 L754.7 430.6 L755.8 430.0 L756.6 429.5 L757.3 429.1 L757.7 428.8 L758.0 428.6 L758.1 428.4 L758.2 428.3 L758.2 428.2 L758.1 428.2 L758.0 428.1 L758.0 428.1 L758.0 428.1 L758.0 428.0" stroke="#ff0000" stroke-dasharray="11 9.9"/>
</g>
<path d="M83.1 24.6 H797.8 V560.5 H83.1 Z M83.1 429.5 L797.8 429.5 M119.0 24.6 L119.0 28.8 M119.0 429.5 L119.0 425.3 M119.0 429.5 L119.0 431.0 M119.0 560.5 L119.0 559.0 M139.9 24.6 L139.9 28.8 M139.9 429.5 L139.9 425.3 M139.9 429.5 L139.9 431.0 M139.9 560.5 L139.9 559.0 M154.8 24.6 L154.8 28.8 M154.8 429.5 L154.8 425.3 M154.8 429.5 L154.8 431.0 M154.8 560.5 L154.8 559.0 M166.4 24.6 L166.4 28.8 M166.4 429.5 L166.4 425.3 M166.4 429.5 L166.4 431.0 M166.4 560.5 L166.4 559.0 M175.8 24.6 L175.8 28.8 M175.8 429.5 L175.8 425.3 M175.8 429.5 L175.8 431.0 M175.8 560.5 L175.8 559.0 M183.8 24.6 L183.8 28.8 M183.8 429.5 L183.8 425.3 M183.8 429.5 L183.8 431.0 M183.8 560.5 L183.8 559.0 M190.7 24.6 L190.7 28.8 M190.7 429.5 L190.7 425.3 M190.7 429.5 L190.7 431.0 M190.7 560.5 L190.7 559.0 M196.8 24.6 L196.8 28.8 M196.8 429.5 L196.8 425.3 M196.8 429.5 L196.8 431.0 M196.8 560.5 L196.8 559.0 M202.2 24.6 L202.2 33.0 M202.2 429.5 L202.2 421.1 M202.2 429.5 L202.2 432.3 M202.2 560.5 L202.2 557.7 M238.1 24.6 L238.1 28.8 M238.1 429.5 L238.1 425.3 M238.1 429.5 L238.1 431.0 M238.1 560.5 L238.1 559.0 M259.0 24.6 L259.0 28.8 M259.0 429.5 L259.0 425.3 M259.0 429.5 L259.0 431.0 M259.0 560.5 L259.0 559.0 M273.9 24.6 L273.9 28.8 M273.9 429.5 L273.9 425.3 M273.9 429.5 L273.9 431.0 M273.9 560.5 L273.9 559.0 M285.5 24.6 L285.5 28.8 M285.5 429.5 L285.5 425.3 M285.5 429.5 L285.5 431.0 M285.5 560.5 L285.5 559.0 M294.9 24.6 L294.9 28.8 M294.9 429.5 L294.9 425.3 M294.9 429.5 L294.9 431.0 M294.9 560.5 L294.9 559.0 M302.9 24.6 L302.9 28.8 M302.9 429.5 L302.9 425.3 M302.9 429.5 L302.9 431.0 M302.9 560.5 L302.9 559.0 M309.8 24.6 L309.8 28.8 M309.8 429.5 L309.8 425.3 M309.8 429.5 L309.8 431.0 M309.8 560.5 L309.8 559.0 M315.9 24.6 L315.9 28.8 M315.9 429.5 L315.9 425.3 M315.9 429.5 L315.9 431.0 M315.9 560.5 L315.9 559.0 M321.3 24.6 L321.3 33.0 M321.3 429.5 L321.3 421.1 M321.3 429.5 L321.3 432.3 M321.3 560.5 L321.3 557.7 M357.2 24.6 L357.2 28.8 M357.2 429.5 L357.2 425.3 M357.2 429.5 L357.2 431.0 M357.2 560.5 L357.2 559.0 M378.2 24.6 L378.2 28.8 M378.2 429.5 L378.2 425.3 M378.2 429.5 L378.2 431.0 M378.2 560.5 L378.2 559.0 M393.0 24.6 L393.0 28.8 M393.0 429.5 L393.0 425.3 M393.0 429.5 L393.0 431.0 M393.0 560.5 L393.0 559.0 M404.6 24.6 L404.6 28.8 M404.6 429.5 L404.6 425.3 M404.6 429.5 L404.6 431.0 M404.6 560.5 L404.6 559.0 M414.0 24.6 L414.0 28.8 M414.0 429.5 L414.0 425.3 M414.0 429.5 L414.0 431.0 M414.0 560.5 L414.0 559.0 M422.0 24.6 L422.0 28.8 M422.0 429.5 L422.0 425.3 M422.0 429.5 L422.0 431.0 M422.0 560.5 L422.0 559.0 M428.9 24.6 L428.9 28.8 M428.9 429.5 L428.9 425.3 M428.9 429.5 L428.9 431.0 M428.9 560.5 L428.9 559.0 M435.0 24.6 L435.0 28.8 M435.0 429.5 L435.0 425.3 M435.0 429.5 L435.0 431.0 M435.0 560.5 L435.0 559.0 M440.4 24.6 L440.4 33.0 M440.4 429.5 L440.4 421.1 M440.4 429.5 L440.4 432.3 M440.4 560.5 L440.4 557.7 M476.3 24.6 L476.3 28.8 M476.3 429.5 L476.3 425.3 M476.3 429.5 L476.3 431.0 M476.3 560.5 L476.3 559.0 M497.3 24.6 L497.3 28.8 M497.3 429.5 L497.3 425.3 M497.3 429.5 L497.3 431.0 M497.3 560.5 L497.3 559.0 M512.2 24.6 L512.2 28.8 M512.2 429.5 L512.2 425.3 M512.2 429.5 L512.2 431.0 M512.2 560.5 L512.2 559.0 M523.7 24.6 L523.7 28.8 M523.7 429.5 L523.7 425.3 M523.7 429.5 L523.7 431.0 M523.7 560.5 L523.7 559.0 M533.1 24.6 L533.1 28.8 M533.1 429.5 L533.1 425.3 M533.1 429.5 L533.1 431.0 M533.1 560.5 L533.1 559.0 M541.1 24.6 L541.1 28.8 M541.1 429.5 L541.1 425.3 M541.1 429.5 L541.1 431.0 M541.1 560.5 L541.1 559.0 M548.0 24.6 L548.0 28.8 M548.0 429.5 L548.0 425.3 M548.0 429.5 L548.0 431.0 M548.0 560.5 L548.0 559.0 M554.1 24.6 L554.1 28.8 M554.1 429.5 L554.1 425.3 M554.1 429.5 L554.1 431.0 M554.1 560.5 L554.1 559.0 M559.6 24.6 L559.6 33.0 M559.6 429.5 L559.6 421.1 M559.6 429.5 L559.6 432.3 M559.6 560.5 L559.6 557.7 M595.4 24.6 L595.4 28.8 M595.4 429.5 L595.4 425.3 M595.4 429.5 L595.4 431.0 M595.4 560.5 L595.4 559.0 M616.4 24.6 L616.4 28.8 M616.4 429.5 L616.4 425.3 M616.4 429.5 L616.4 431.0 M616.4 560.5 L616.4 559.0 M631.3 24.6 L631.3 28.8 M631.3 429.5 L631.3 425.3 M631.3 429.5 L631.3 431.0 M631.3 560.5 L631.3 559.0 M642.8 24.6 L642.8 28.8 M642.8 429.5 L642.8 425.3 M642.8 429.5 L642.8 431.0 M642.8 560.5 L642.8 559.0 M652.3 24.6 L652.3 28.8 M652.3 429.5 L652.3 425.3 M652.3 429.5 L652.3 431.0 M652.3 560.5 L652.3 559.0 M660.2 24.6 L660.2 28.8 M660.2 429.5 L660.2 425.3 M660.2 429.5 L660.2 431.0 M660.2 560.5 L660.2 559.0 M667.1 24.6 L667.1 28.8 M667.1 429.5 L667.1 425.3 M667.1 429.5 L667.1 431.0 M667.1 560.5 L667.1 559.0 M673.2 24.6 L673.2 28.8 M673.2 429.5 L673.2 425.3 M673.2 429.5 L673.2 431.0 M673.2 560.5 L673.2 559.0 M678.7 24.6 L678.7 33.0 M678.7 429.5 L678.7 421.1 M678.7 429.5 L678.7 432.3 M678.7 560.5 L678.7 557.7 M714.5 24.6 L714.5 28.8 M714.5 429.5 L714.5 425.3 M714.5 429.5 L714.5 431.0 M714.5 560.5 L714.5 559.0 M735.5 24.6 L735.5 28.8 M735.5 429.5 L735.5 425.3 M735.5 429.5 L735.5 431.0 M735.5 560.5 L735.5 559.0 M750.4 24.6 L750.4 28.8 M750.4 429.5 L750.4 425.3 M750.4 429.5 L750.4 431.0 M750.4 560.5 L750.4 559.0 M761.9 24.6 L761.9 28.8 M761.9 429.5 L761.9 425.3 M761.9 429.5 L761.9 431.0 M761.9 560.5 L761.9 559.0 M771.4 24.6 L771.4 28.8 M771.4 429.5 L771.4 425.3 M771.4 429.5 L771.4 431.0 M771.4 560.5 L771.4 559.0 M779.3 24.6 L779.3 28.8 M779.3 429.5 L779.3 425.3 M779.3 429.5 L779.3 431.0 M779.3 560.5 L779.3 559.0 M786.3 24.6 L786.3 28.8 M786.3 429.5 L786.3 425.3 M786.3 429.5 L786.3 431.0 M786.3 560.5 L786.3 559.0 M792.3 24.6 L792.3 28.8 M792.3 429.5 L792.3 425.3 M792.3 429.5 L792.3 431.0 M792.3 560.5 L792.3 559.0 M83.1 75.2 L90.2 75.2 M797.8 75.2 L790.7 75.2 M83.1 125.8 L97.4 125.8 M797.8 125.8 L783.5 125.8 M83.1 176.4 L90.2 176.4 M797.8 176.4 L790.7 176.4 M83.1 227.0 L97.4 227.0 M797.8 227.0 L783.5 227.0 M83.1 277.7 L90.2 277.7 M797.8 277.7 L790.7 277.7 M83.1 328.3 L97.4 328.3 M797.8 328.3 L783.5 328.3 M83.1 378.9 L90.2 378.9 M797.8 378.9 L790.7 378.9 M83.1 555.3 L97.4 555.3 M797.8 555.3 L783.5 555.3 M83.1 529.1 L97.4 529.1 M797.8 529.1 L783.5 529.1 M83.1 502.9 L97.4 502.9 M797.8 502.9 L783.5 502.9 M83.1 476.7 L97.4 476.7 M797.8 476.7 L783.5 476.7 M83.1 450.5 L97.4 450.5 M797.8 450.5 L783.5 450.5" fill="none" stroke="#000" stroke-width="1.4" stroke-linecap="butt"/>
<path d="M83.1 557.9 H90.2 M797.8 557.9 H790.7 M83.1 552.7 H90.2 M797.8 552.7 H790.7 M83.1 550.1 H90.2 M797.8 550.1 H790.7 M83.1 547.4 H90.2 M797.8 547.4 H790.7 M83.1 544.8 H90.2 M797.8 544.8 H790.7 M83.1 542.2 H90.2 M797.8 542.2 H790.7 M83.1 539.6 H90.2 M797.8 539.6 H790.7 M83.1 537.0 H90.2 M797.8 537.0 H790.7 M83.1 534.3 H90.2 M797.8 534.3 H790.7 M83.1 531.7 H90.2 M797.8 531.7 H790.7 M83.1 526.5 H90.2 M797.8 526.5 H790.7 M83.1 523.9 H90.2 M797.8 523.9 H790.7 M83.1 521.2 H90.2 M797.8 521.2 H790.7 M83.1 518.6 H90.2 M797.8 518.6 H790.7 M83.1 516.0 H90.2 M797.8 516.0 H790.7 M83.1 513.4 H90.2 M797.8 513.4 H790.7 M83.1 510.8 H90.2 M797.8 510.8 H790.7 M83.1 508.1 H90.2 M797.8 508.1 H790.7 M83.1 505.5 H90.2 M797.8 505.5 H790.7 M83.1 500.3 H90.2 M797.8 500.3 H790.7 M83.1 497.7 H90.2 M797.8 497.7 H790.7 M83.1 495.0 H90.2 M797.8 495.0 H790.7 M83.1 492.4 H90.2 M797.8 492.4 H790.7 M83.1 489.8 H90.2 M797.8 489.8 H790.7 M83.1 487.2 H90.2 M797.8 487.2 H790.7 M83.1 484.6 H90.2 M797.8 484.6 H790.7 M83.1 481.9 H90.2 M797.8 481.9 H790.7 M83.1 479.3 H90.2 M797.8 479.3 H790.7 M83.1 474.1 H90.2 M797.8 474.1 H790.7 M83.1 471.5 H90.2 M797.8 471.5 H790.7 M83.1 468.8 H90.2 M797.8 468.8 H790.7 M83.1 466.2 H90.2 M797.8 466.2 H790.7 M83.1 463.6 H90.2 M797.8 463.6 H790.7 M83.1 461.0 H90.2 M797.8 461.0 H790.7 M83.1 458.4 H90.2 M797.8 458.4 H790.7 M83.1 455.7 H90.2 M797.8 455.7 H790.7 M83.1 453.1 H90.2 M797.8 453.1 H790.7 M83.1 447.9 H90.2 M797.8 447.9 H790.7 M83.1 445.3 H90.2 M797.8 445.3 H790.7 M83.1 442.6 H90.2 M797.8 442.6 H790.7 M83.1 440.0 H90.2 M797.8 440.0 H790.7 M83.1 437.4 H90.2 M797.8 437.4 H790.7 M83.1 434.8 H90.2 M797.8 434.8 H790.7 M83.1 432.2 H90.2 M797.8 432.2 H790.7" fill="none" stroke="#000" stroke-width="1.2"/>
<g opacity="0.999">
<text x="77.5" y="37.8" font-size="22.8" text-anchor="end">10<tspan font-size="13.6" dy="-9.6" dx="-0.6">-8</tspan></text>
<text x="77.5" y="133.4" font-size="22.8" text-anchor="end">10<tspan font-size="13.6" dy="-9.6" dx="-0.6">-10</tspan></text>
<text x="77.5" y="234.6" font-size="22.8" text-anchor="end">10<tspan font-size="13.6" dy="-9.6" dx="-0.6">-12</tspan></text>
<text x="77.5" y="335.9" font-size="22.8" text-anchor="end">10<tspan font-size="13.6" dy="-9.6" dx="-0.6">-14</tspan></text>
<text x="77.5" y="429.5" font-size="22.8" text-anchor="end">10<tspan font-size="13.6" dy="-9.6" dx="-0.6">-16</tspan></text>
<text x="76.8" y="561.8" font-size="20.3" text-anchor="end">0</text>
<text x="76.8" y="535.6" font-size="20.3" text-anchor="end">1</text>
<text x="76.8" y="509.4" font-size="20.3" text-anchor="end">2</text>
<text x="76.8" y="483.2" font-size="20.3" text-anchor="end">3</text>
<text x="76.8" y="457.0" font-size="20.3" text-anchor="end">4</text>
<text x="83.6" y="587.6" font-size="22.8" text-anchor="middle">10<tspan font-size="13.6" dy="-9.6" dx="-0.6">-2</tspan></text>
<text x="202.7" y="587.6" font-size="22.8" text-anchor="middle">10<tspan font-size="13.6" dy="-9.6" dx="-0.6">-1</tspan></text>
<text x="321.8" y="587.6" font-size="22.8" text-anchor="middle">10<tspan font-size="13.6" dy="-9.6" dx="-1.6">0</tspan></text>
<text x="440.9" y="587.6" font-size="22.8" text-anchor="middle">10<tspan font-size="13.6" dy="-9.6" dx="-1.6">1</tspan></text>
<text x="560.1" y="587.6" font-size="22.8" text-anchor="middle">10<tspan font-size="13.6" dy="-9.6" dx="-1.6">2</tspan></text>
<text x="679.2" y="587.6" font-size="22.8" text-anchor="middle">10<tspan font-size="13.6" dy="-9.6" dx="-1.6">3</tspan></text>
<text x="798.3" y="587.6" font-size="22.8" text-anchor="middle">10<tspan font-size="13.6" dy="-9.6" dx="-1.6">4</tspan></text>
<text x="439.8" y="612.2" font-size="22.3" text-anchor="middle"><tspan font-style="italic">p</tspan> = <tspan font-style="italic">P</tspan><tspan font-size="14.6" dy="4.5">e</tspan><tspan dy="-4.5"> / </tspan><tspan font-style="italic">m</tspan><tspan font-size="14.6" dy="4.5">e</tspan><tspan dy="-4.5" font-style="italic">c</tspan></text>
<text transform="translate(19.9 228.2) rotate(-90)" font-size="22.3" text-anchor="middle"><tspan font-style="italic">p f</tspan><tspan font-size="14.0" dy="4.5">CRe</tspan><tspan dy="-4.5">(</tspan><tspan font-style="italic">p</tspan>) [cm<tspan font-size="13.6" dy="-9.6">-3</tspan><tspan dy="9.6">]</tspan></text>
<text transform="translate(49.6 504.2) rotate(-90)" font-size="25.2">α<tspan font-size="13.6" dy="3.6">e</tspan></text>
<text x="108.3" y="61.4" font-size="24.0">g72a</text>
<text x="108.3" y="86.3" font-size="24.0">merging</text>
<text x="133" y="342.4" font-size="24.0">Maxwellian</text>
<text x="145.5" y="367.1" font-size="24.0">3 keV</text>
<text x="565.7" y="61.2" font-size="24.1">median w/ cooling:</text>
</g>
<g fill="none" stroke-width="4">
<path d="M565.2 80.8 H639.9" stroke="#000080"/>
<path d="M565.4 99.3 H640" stroke="#008000" stroke-dasharray="2.2 5.04"/>
<path d="M565.4 118.0 H640" stroke="#ff0000" stroke-dasharray="10.2 10.6"/>
</g>
<g opacity="0.999">
<text x="665.0" y="80.6" font-size="21.5">M-<tspan font-size="25.5">α</tspan>R</text>
<text x="665.0" y="99.5" font-size="21.5">M-testp</text>
<text x="665.0" y="117.9" font-size="21.5">M-const</text>
</g>
</svg></body></html>
